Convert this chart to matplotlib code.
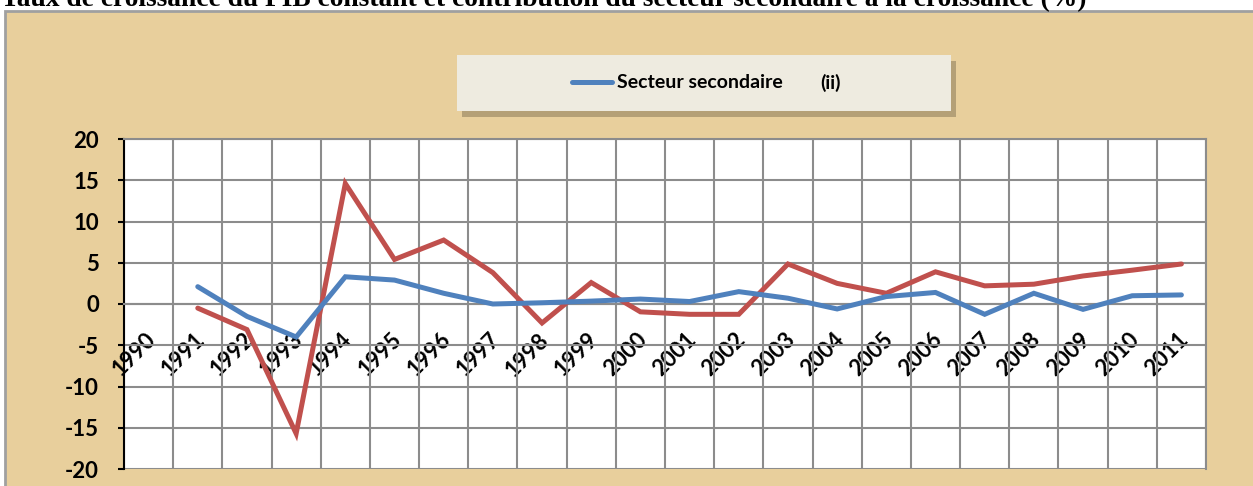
import numpy as np
import matplotlib.pyplot as plt
from matplotlib.patches import Rectangle
from matplotlib.lines import Line2D
from matplotlib.transforms import ScaledTranslation

# Data (%)
years = [str(y) for y in range(1990, 2012)]
pib = [np.nan, -0.5, -3.1, -15.7, 14.6, 5.4, 7.75, 3.8, -2.3, 2.6, -0.95,
       -1.25, -1.25, 4.85, 2.5, 1.3, 3.9, 2.2, 2.4, 3.4, 4.1, 4.85]
secondaire = [np.nan, 2.1, -1.5, -4.0, 3.3, 2.9, 1.3, 0.0, 0.15, 0.35, 0.6,
              0.3, 1.5, 0.7, -0.6, 0.9, 1.4, -1.25, 1.3, -0.65, 1.0, 1.1]
yticks = [-20, -15, -10, -5, 0, 5, 10, 15, 20]

title = ("Taux de croissance du PIB constant et contribution du secteur "
         "secondaire à la croissance (%)")
legend_label = "Secteur secondaire"
legend_tag = "(ii)"

BLUE = "#4F81BD"
RED = "#C0504D"
GRID = "#8C8C8C"
TAN = "#E8CF9C"

W, H = 1253, 486
fig = plt.figure(figsize=(W / 100, H / 100), dpi=100)
fig.patch.set_facecolor("white")

def fx(px):
    return px / W

def fy(py):
    return 1 - py / H

# papyrus-like chart area with grey frame
frame = Rectangle((fx(5), fy(500)), fx(1270), (500 - 11) / H, transform=fig.transFigure,
                  facecolor=TAN, edgecolor="#A0A0A0", linewidth=2, zorder=0)
fig.patches.append(frame)

# cut-off title at top (the reference crops it the same way)
fig.text(fx(1), fy(6), title, fontsize=19.8, family="Liberation Serif",
         fontweight="bold", ha="left", va="baseline")

ax = fig.add_axes([fx(124), fy(469), fx(1206 - 124), (469 - 139) / H])
ax.set_zorder(2)
ax.set_facecolor("white")

x = np.arange(len(years))
ax.plot(x, pib, color=RED, linewidth=3.6, solid_capstyle="round",
        solid_joinstyle="miter", zorder=3)
ax.plot(x, secondaire, color=BLUE, linewidth=3.6, solid_capstyle="round",
        solid_joinstyle="miter", zorder=4)

ax.set_xlim(-0.5, len(years) - 0.5)
ax.set_ylim(-20, 20)

# grid
ax.set_yticks(yticks)
ax.set_xticks(x)
ax.set_xticks(np.arange(-0.5, len(years)), minor=True)
ax.grid(True, axis="y", which="major", color=GRID, linewidth=1.5, zorder=1)
ax.grid(True, axis="x", which="minor", color=GRID, linewidth=1.5, zorder=1)
ax.grid(False, axis="x", which="major")

for side in ("top", "right"):
    ax.spines[side].set_color(GRID)
    ax.spines[side].set_linewidth(1.5)
ax.spines["left"].set_color("black")
ax.spines["left"].set_linewidth(1.5)
ax.spines["bottom"].set_position(("data", 0))
ax.spines["bottom"].set_color(GRID)
ax.spines["bottom"].set_linewidth(1.5)

ax.set_yticklabels([str(v) for v in yticks], fontweight="bold", family="Lato")
ax.set_xticklabels(years, rotation=45, ha="right", va="top",
                   fontweight="bold", family="Lato", rotation_mode="anchor")
ax.tick_params(axis="y", direction="out", length=4, width=1.5, color="black",
               pad=14, labelsize=16)
ax.tick_params(axis="x", which="both", length=0, pad=18, labelsize=16)
shift = ScaledTranslation(-4 / 100, 0, fig.dpi_scale_trans)
for lab in ax.get_xticklabels():
    lab.set_transform(lab.get_transform() + shift)

# legend box with shadow
lx0, ly0, lx1, ly1 = 457, 55, 951, 111
shadow = Rectangle((fx(lx0 + 5), fy(ly1 + 6)), fx(lx1 - lx0), (ly1 - ly0) / H,
                   transform=fig.transFigure, facecolor="#8a7a5a", alpha=0.55,
                   edgecolor="none", zorder=5)
box = Rectangle((fx(lx0), fy(ly1)), fx(lx1 - lx0), (ly1 - ly0) / H,
                transform=fig.transFigure, facecolor="#EEEBE0", edgecolor="none",
                zorder=6)
fig.patches.extend([shadow, box])
fig.lines.append(Line2D([fx(572), fx(612)], [fy(82), fy(82)], transform=fig.transFigure,
                        color=BLUE, linewidth=3.6, solid_capstyle="round", zorder=7))
fig.text(fx(617), fy(83), legend_label, fontsize=14, fontweight="bold", family="Lato",
         ha="left", va="center", zorder=7)
fig.text(fx(820), fy(83), legend_tag, fontsize=14, fontweight="bold", family="Lato",
         ha="left", va="center", zorder=7)

fig.savefig("out.png", dpi=100)
